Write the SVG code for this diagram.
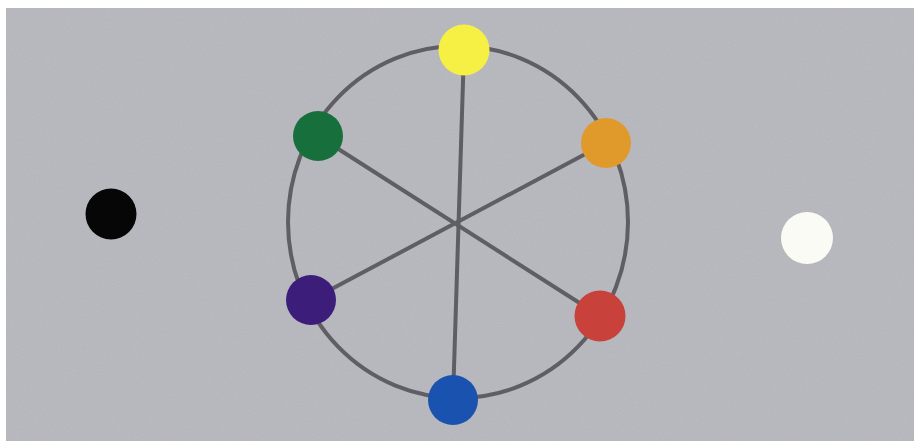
<svg xmlns="http://www.w3.org/2000/svg" width="914" height="441" viewBox="0 0 914 441">
  <defs>
    <filter id="grain" x="0" y="0" width="100%" height="100%">
      <feTurbulence type="fractalNoise" baseFrequency="0.9" numOctaves="2" seed="3" result="n"/>
      <feColorMatrix in="n" type="matrix" values="0 0 0 0 0.7  0 0 0 0 0.7  0 0 0 0 0.74  0 0 0 0.35 0" result="c"/>
      <feComposite in="c" in2="SourceGraphic" operator="over"/>
    </filter>
  </defs>
  <style>
    .line { fill: none; stroke: #5e5e64; stroke-width: 4; stroke-linecap: round; }
    .dot { stroke: none; }
  </style>
  <rect x="0" y="0" width="914" height="441" fill="#ffffff"/>
  <rect x="6" y="8" width="908" height="433" fill="#b3b3ba"/>
  <rect x="6" y="8" width="908" height="433" fill="#b3b3ba" filter="url(#grain)" opacity="0.6"/>
  <g id="connectors">
    <ellipse class="line" cx="458" cy="222" rx="170" ry="176"/>
    <line class="line" x1="464" y1="50" x2="453" y2="400"/>
    <line class="line" x1="318" y1="136" x2="600" y2="316"/>
    <line class="line" x1="606" y1="143" x2="311" y2="300"/>
  </g>
  <g id="yellow"><circle class="dot" cx="464" cy="50" r="25.5" fill="#f6f044"/></g>
  <g id="green"><circle class="dot" cx="318" cy="136" r="25" fill="#17703c"/></g>
  <g id="orange"><circle class="dot" cx="606" cy="143" r="25" fill="#e09a2c"/></g>
  <g id="purple"><circle class="dot" cx="311" cy="300" r="25" fill="#3c1e7a"/></g>
  <g id="red"><circle class="dot" cx="600" cy="316" r="25.5" fill="#c8413a"/></g>
  <g id="blue"><circle class="dot" cx="453" cy="400" r="25" fill="#1a52b0"/></g>
  <g id="black"><circle class="dot" cx="111" cy="214" r="25.5" fill="#060606"/></g>
  <g id="white"><circle class="dot" cx="807" cy="238" r="26" fill="#fbfbf6"/></g>
</svg>
